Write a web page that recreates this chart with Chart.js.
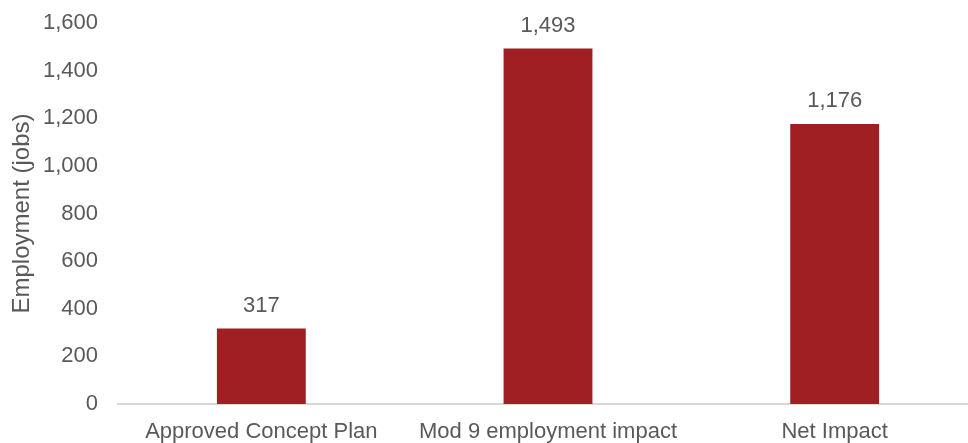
<!DOCTYPE html>
<html>
<head>
<meta charset="utf-8">
<script src="https://cdn.jsdelivr.net/npm/chart.js@4/dist/chart.umd.min.js"></script>
<style>
  html, body { margin: 0; padding: 0; background: #fff; overflow: hidden; }
  #wrap { width: 978px; height: 443px; }
</style>
</head>
<body>
<div id="wrap"><canvas id="chart"></canvas></div>
<script>
// 雇用数データ
const categories = ['Approved Concept Plan', 'Mod 9 employment impact', 'Net Impact'];
const jobs = [317, 1493, 1176];
const yTicks = [0, 200, 400, 600, 800, 1000, 1200, 1400, 1600];

const textColor = '#595959';
const barColor = '#A01F22';

// 棒の上に値を描くプラグイン
const valueLabels = {
    id: 'valueLabels',
    afterDatasetsDraw(chart) {
        const ctx = chart.ctx;
        const meta = chart.getDatasetMeta(0);
        ctx.save();
        ctx.font = '22px "Liberation Sans", Arial, sans-serif';
        ctx.fillStyle = textColor;
        ctx.textAlign = 'center';
        ctx.textBaseline = 'middle';
        meta.data.forEach((bar, i) => {
            ctx.fillText(jobs[i].toLocaleString('en-US'), bar.x, bar.y - 23);
        });
        ctx.restore();
    }
};

Chart.defaults.font.family = '"Liberation Sans", Arial, sans-serif';
Chart.defaults.color = textColor;

new Chart(document.getElementById('chart').getContext('2d'), {
    type: 'bar',
    data: {
        labels: categories,
        datasets: [{
            data: jobs,
            backgroundColor: barColor,
            barPercentage: 0.31,
            categoryPercentage: 1
        }]
    },
    options: {
        responsive: true,
        maintainAspectRatio: false,
        animation: false,
        layout: { padding: { top: 23, left: 8, right: 0, bottom: 0 } },
        plugins: {
            legend: { display: false },
            tooltip: { enabled: false }
        },
        scales: {
            x: {
                grid: { display: false, drawTicks: false },
                border: { color: '#d9d9d9', width: 2 },
                ticks: { font: { size: 22 }, padding: 15, maxRotation: 0 },
                // 端のラベルによる余白を付けない
                afterFit(scale) {
                    scale.paddingLeft = 0;
                    scale.paddingRight = 0;
                    scale.height = 39;
                }
            },
            y: {
                min: 0,
                max: 1600,
                afterBuildTicks(scale) {
                    scale.ticks = yTicks.map(v => ({ value: v }));
                },
                afterFit(scale) {
                    scale.paddingTop = 0;
                    scale.paddingBottom = 0;
                    scale.width = 110;
                },
                grid: { display: false, drawTicks: false },
                border: { display: false },
                ticks: {
                    font: { size: 22 },
                    padding: 20,
                    callback: v => v.toLocaleString('en-US')
                },
                title: {
                    display: true,
                    text: 'Employment (jobs)',
                    font: { size: 24 },
                    padding: { top: 0, bottom: 6 }
                }
            }
        }
    },
    plugins: [valueLabels]
});
</script>
</body>
</html>
